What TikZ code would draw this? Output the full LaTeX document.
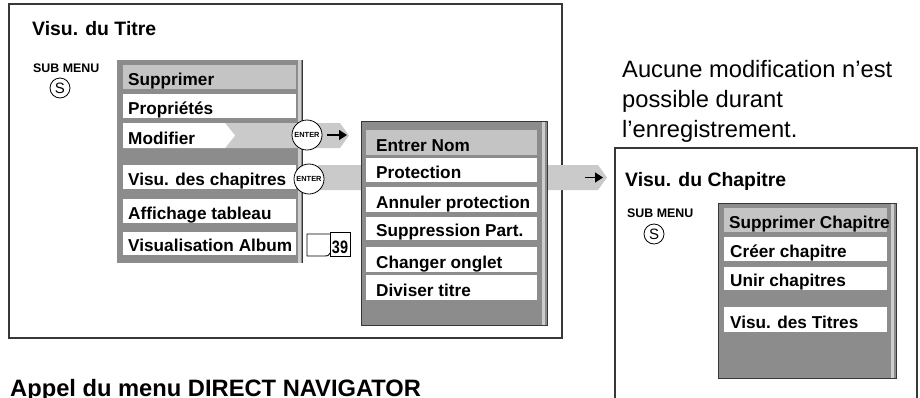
\documentclass[tikz,border=0pt]{standalone}
\usepackage{fontspec}
\setmainfont{Liberation Sans}
\usetikzlibrary{arrows.meta}
\definecolor{menugray}{RGB}{140,140,140}
\definecolor{hlgray}{RGB}{196,196,196}
\definecolor{bandgray}{RGB}{202,202,202}
\definecolor{framecol}{RGB}{55,55,55}
\definecolor{stripgray}{RGB}{205,205,205}
\begin{document}
\begin{tikzpicture}[x=1pt,y=-1pt,
  itemtxt/.style={anchor=base west, inner sep=0pt, font=\fontsize{17.2}{20}\selectfont\bfseries},
  titletxt/.style={anchor=base west, inner sep=0pt, font=\fontsize{19.4}{22}\selectfont\bfseries},
  subtxt/.style={anchor=base west, inner sep=0pt, font=\fontsize{12.4}{14}\selectfont\bfseries},
  scirc/.style={circle, draw, fill=white, minimum size=20pt, inner sep=0pt, line width=0.8pt, font=\fontsize{15}{16}\selectfont},
  entercirc/.style={circle, draw, fill=white, minimum size=30pt, inner sep=0pt, line width=0.8pt, font=\fontsize{7.4}{8}\selectfont\bfseries},
  framebox/.style={draw=framecol, line width=1.4pt},
  menubox/.style={fill=menugray, draw=framecol, line width=0.9pt},
  blackarrow/.style={-{Triangle[length=8pt,width=10pt]}, line width=1.4pt}
]
\useasboundingbox (0,0) rectangle (920,397);

% ---------- left frame ----------
\draw[framebox] (9,4) rectangle (562,338);
\node[titletxt] (t1) at (32,35) {Visu. du Titre};
\node[subtxt] (sm1) at (33,72) {SUB MENU};
\node[scirc] (s1) at (60,88) {S};

% ---------- menu 1 ----------
\fill[menugray] (117,60) rectangle (302,263);
\fill[stripgray] (298,60) rectangle (300.5,263);
\draw[framecol, line width=1pt] (302.5,60) -- (302.5,263);
\fill[hlgray] (123,65) rectangle (296,89);
\node[itemtxt] (m1a) at (128,85) {Supprimer};
\foreach \nm/\tp/\bt/\tx in {m1b/94/118/Propriétés, m1d/165/189/Visu. des chapitres, m1e/199/223/Affichage tableau, m1f/232/255/Visualisation Album}{
  \fill[white] (123,\tp) rectangle (296,\bt);
  \node[itemtxt] (\nm) at (128,\bt-4) {\tx};
}
% Modifier row with band
\fill[bandgray] (225,123) -- (340,123) -- (349,135.5) -- (340,148) -- (225,148) -- cycle;
\fill[white] (123,123) -- (225,123) -- (235,135.5) -- (225,148) -- (123,148) -- cycle;
\node[itemtxt] (m1c) at (128,144) {Modifier};

% band from Visu. des chapitres
\fill[bandgray] (318,165) -- (598,165) -- (607,177.5) -- (598,190) -- (318,190) -- cycle;

% book icon
\draw[line width=0.9pt] (330,234) -- (307,234) -- (307,256) -- (325,256) .. controls (328,256) .. (330,253);
\draw[line width=0.9pt] (330,232) rectangle (350,256);
\node[anchor=base, inner sep=0pt, font=\fontsize{18}{20}\selectfont\bfseries] (p39) at (340,253) {\scalebox{0.8}[1]{39}};

% ---------- menu 2 ----------
\draw[menubox] (361,121) rectangle (547,325);
\fill[stripgray] (542,121.5) rectangle (545,324.5);
\fill[hlgray] (366,130) rectangle (537,155);
\node[itemtxt] (m2a) at (376,151) {Entrer Nom};
\foreach \nm/\tp/\bt/\tx in {m2b/158/182/Protection, m2c/187/212/Annuler protection, m2d/217/240/Suppression Part., m2e/247/272/Changer onglet, m2f/275/300/Diviser titre}{
  \fill[white] (366,\tp) rectangle (537,\bt);
  \node[itemtxt] (\nm) at (376,\bt-4) {\tx};
}

% ENTER circles
\node[entercirc] (e1) at (307,135) {ENTER};
\node[entercirc] (e2) at (309,179) {ENTER};

% black arrows
\coordinate (a1e) at (347,135);
\draw[blackarrow] ([xshift=5pt]e1.east |- e1.center) -- (a1e);
\coordinate (a2s) at (585,177.5);
\coordinate (a2e) at (603,177.5);
\draw[blackarrow] (a2s) -- (a2e);

% ---------- right text ----------
\node[anchor=base west, inner sep=0pt, font=\fontsize{23.7}{30}\selectfont] (n1) at (622,77) {Aucune modification n’est};
\node[anchor=base west, inner sep=0pt, font=\fontsize{23.7}{30}\selectfont] (n2) at (622,107) {possible durant};
\node[anchor=base west, inner sep=0pt, font=\fontsize{23.7}{30}\selectfont] (n3) at (622,137.5) {l’enregistrement.};

% ---------- right frame ----------
\draw[framebox] (615,402) -- (615,148) -- (917,148) -- (917,402);
\node[titletxt] (t2) at (625,186) {Visu. du Chapitre};
\node[subtxt] (sm2) at (627,217) {SUB MENU};
\node[scirc] (s2) at (654,234) {S};

% ---------- menu 3 ----------
\draw[menubox] (718,203) rectangle (896,378);
\fill[stripgray] (891,203.5) rectangle (894,377.5);
\fill[hlgray] (724,208) rectangle (887,232);
\node[itemtxt] (m3a) at (729,228) {Supprimer Chapitre};
\foreach \nm/\tp/\bt/\tx in {m3b/237/261/Créer chapitre, m3c/267/290/Unir chapitres, m3d/307/332/Visu. des Titres}{
  \fill[white] (724,\tp) rectangle (887,\bt);
  \node[itemtxt] (\nm) at (730,\bt-4) {\tx};
}

% ---------- bottom heading ----------
\node[anchor=base west, inner sep=0pt, font=\fontsize{23.7}{28}\selectfont\bfseries] (h1) at (10,396) {Appel du menu DIRECT NAVIGATOR};
\end{tikzpicture}
\end{document}
